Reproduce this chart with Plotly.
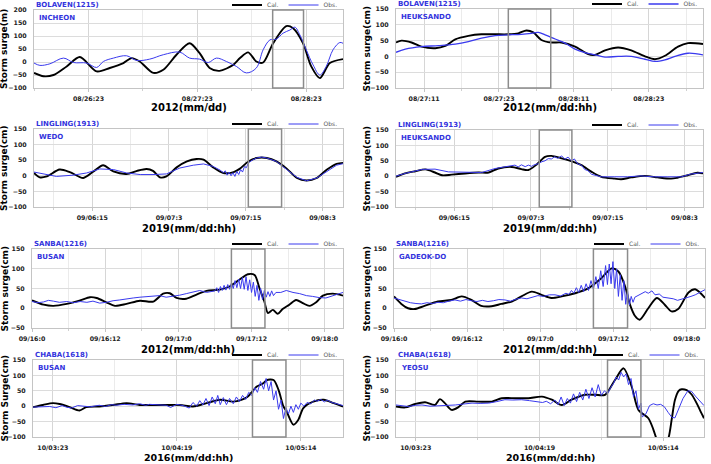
import plotly.graph_objects as go

W, H = 711, 464

# ---------------- data (hours on each panel's own time axis, surge values) ----------------
p1_cal = [(11.0,-42),(13.1,-55),(15.3,-50),(18.2,-17),(21.1,19),(24.8,-36),(27.7,-23),(30.7,-4),(32.5,15),(34.3,2),
          (37.3,-42),(39.5,-30),(42.4,28),(45.3,72),(47.5,34),(49.7,-23),(51.9,-34),(54.9,-11),(56.4,15),(58.2,37),
          (60.0,2),(61.5,-2),(63.7,72),(66.6,138),(68.1,130),(70.3,72),(72.1,-17),(74.0,-62),(76.2,-4),(79.1,11)]
p1_obs = [(11.0,-4),(12.3,-13),(14.5,-7),(17.5,15),(19.7,-2),(22.6,-4),(24.8,-21),(26.3,2),(28.5,15),(31.4,24),
          (33.6,6),(36.5,11),(39.5,28),(43.1,38),(45.3,15),(47.5,11),(49.4,-2),(51.2,15),(53.4,2),(55.6,-17),
          (57.8,-42),(60.0,-23),(61.5,47),(63.0,85),(64.4,88),(65.9,111),(67.4,123),(68.5,134),(69.6,104),(71.0,47),
          (72.5,-11),(74.0,-50),(75.4,-17),(76.9,47),(78.4,75),(79.1,72)]

p2_cal = [(6.5,44),(7.4,50),(9.0,44),(10.6,31),(12.8,26),(14.4,33),(16.0,54),(18.1,65),(20.2,70),(22.4,70),
          (24.5,70),(26.1,73),(27.4,82),(28.5,76),(29.8,52),(31.4,44),(33.0,44),(35.2,31),(37.3,7),(38.4,5),
          (40.0,19),(42.1,28),(44.2,19),(46.4,0),(48.0,-9),(49.6,2),(51.7,31),(53.3,42),(55.7,39)]
p2_obs = [(6.5,13),(8.0,23),(10.6,31),(13.3,34),(16.0,39),(18.1,47),(20.2,58),(22.4,66),(24.5,68),(26.6,70),
          (28.2,73),(29.3,76),(30.4,68),(32.0,55),(33.6,42),(35.2,23),(36.8,12),(38.4,5),(40.0,-2),(42.1,0),
          (44.2,0),(46.4,-9),(48.0,-16),(49.6,-11),(51.2,0),(53.3,10),(55.7,5)]

p3_cal = [(5.9,9),(6.8,-5),(7.9,-2),(9.9,20),(11.5,12),(13.6,-7),(15.2,14),(16.7,34),(18.3,14),(20.4,6),
          (22.0,16),(23.5,22),(24.5,16),(25.6,-5),(26.6,-2),(28.2,27),(29.8,46),(31.3,54),(32.4,52),(33.9,27),
          (35.5,9),(37.1,12),(38.1,23),(39.4,46),(40.7,57),(42.3,57),(43.8,46),(45.4,23),(47.0,-7),(48.5,-15),
          (50.1,-7),(51.7,20),(53.2,38),(54.2,41)]
p3_obs = [(5.9,12),(7.3,6),(9.4,-2),(12.0,2),(14.1,9),(16.2,22),(18.3,20),(20.4,9),(22.5,4),(24.5,4),
          (26.6,6),(28.7,25),(30.8,34),(32.4,38),(33.9,30),(35.0,18),(35.5,10),(35.8,16),(36.1,2),(36.4,12),
          (36.7,0),(37.0,10),(37.3,-2),(37.6,14),(37.9,4),(38.2,20),(38.5,12),(38.8,30),(39.1,26),(39.4,41),
          (40.0,50),(40.7,57),(41.5,60),(42.3,57),(43.8,46),(45.4,20),(47.0,-5),(48.5,-16),(50.1,-7),(51.7,14),
          (53.2,34),(54.2,39)]

p4_cal = [(5.9,-2),(7.3,9),(8.9,16),(10.5,22),(12.0,12),(13.1,3),(14.6,5),(16.7,9),(18.8,12),(20.4,12),
          (21.9,25),(24.0,30),(25.5,23),(26.6,20),(27.9,38),(29.2,63),(30.2,66),(31.8,58),(33.3,49),(34.9,36),
          (36.5,14),(38.0,-2),(40.1,-8),(41.1,-10),(42.7,-4),(44.8,1),(46.8,-4),(48.9,-8),(49.9,-5),(51.5,3),
          (53.0,11),(53.9,9)]
p4_obs = [(5.9,0),(7.3,9),(10.0,22),(12.0,23),(14.1,14),(16.7,12),(19.3,12),(21.4,25),(24.0,33),(24.5,36),
          (25.0,30),(25.5,37),(26.1,31),(26.6,36),(27.1,32),(27.6,38),(28.1,40),(28.7,47),(29.2,50),(29.7,57),
          (30.2,56),(30.7,63),(31.2,58),(31.8,66),(32.3,55),(32.8,62),(33.3,50),(33.8,56),(34.3,40),(34.9,36),
          (35.4,22),(35.9,18),(36.5,6),(38.0,-2),(40.1,-2),(42.1,-2),(44.2,1),(46.3,-2),(48.4,-2),(50.5,-2),
          (52.0,7),(53.9,12)]

p5_cal = [(0,20),(1.9,9),(3.5,6),(5.7,11),(7.9,20),(9.5,28),(10.6,26),(12.2,15),(13.6,6),(15.5,11),
          (17.7,19),(19.9,17),(21.5,37),(22.6,38),(23.7,26),(25.3,24),(26.9,34),(28.6,44),(30.8,47),(32.4,55),
          (34.0,72),(35.4,86),(36.5,84),(37.3,51),(38.1,17),(38.7,-12),(39.5,-4),(40.3,-14),(41.1,-2),(42.2,9),
          (43.3,21),(44.4,13),(45.5,6),(46.6,15),(47.7,32),(49.3,37),(51.0,32)]
p5_obs = [(0,17),(1.0,14),(1.9,16),(2.7,20),(3.5,18),(4.5,15),(5.7,17),(6.8,14),(7.9,17),(9.0,15),
          (10.0,18),(11.1,13),(12.2,15),(13.3,19),(14.4,21),(15.5,24),(16.6,26),(17.7,28),(18.8,30),(19.9,31),
          (20.9,32),(22.0,28),(23.1,30),(24.2,33),(25.3,37),(26.4,42),(27.5,45),(28.6,40),(29.7,43),
          (30.0,44),(30.3,52),(30.6,40),(30.9,55),(31.2,45),(31.5,58),(31.8,46),(32.1,60),(32.4,48),(32.7,64),
          (33.0,50),(33.3,70),(33.6,52),(33.9,74),(34.2,50),(34.5,78),(34.8,48),(35.1,80),(35.4,45),(35.7,72),
          (36.0,40),(36.3,66),(36.6,30),(36.9,58),(37.2,20),(37.5,50),(37.8,22),(38.1,45),(38.4,28),(38.7,42),
          (39.0,30),(39.3,44),(39.6,32),(40.0,40),(40.8,40),(41.7,45),(42.8,40),(43.9,37),(45.0,32),(46.0,30),
          (47.1,27),(48.2,26),(49.0,30),(49.9,34),(50.5,38),(51.0,40)]

p6_cal = [(0,30),(1.2,11),(2.3,0),(3.4,-2),(5.0,6),(7.2,17),(9.4,21),(11.1,30),(12.7,21),(14.3,6),
          (16.0,5),(17.6,11),(19.3,17),(20.9,30),(22.6,42),(24.2,34),(25.8,26),(27.5,30),(29.7,38),(31.9,51),
          (34.0,76),(35.7,101),(36.8,93),(37.9,55),(38.7,9),(39.5,-19),(40.3,-29),(41.7,0),(43.1,26),(44.4,9),
          (45.5,-8),(46.6,-2),(48.3,40),(49.4,48),(51.0,26)]
p6_obs = [(0,26),(0.9,22),(1.8,17),(2.7,14),(3.6,12),(4.5,11),(5.4,14),(6.3,12),(7.2,15),(8.1,14),
          (9.0,18),(10.0,21),(10.9,18),(11.8,22),(12.7,19),(13.6,17),(14.5,20),(15.4,17),(16.3,19),(17.2,22),
          (18.2,21),(19.1,18),(20.0,23),(20.9,26),(21.8,24),(22.7,29),(23.6,32),(24.5,30),(25.5,34),(26.4,34),
          (27.3,31),(28.2,38),(28.7,35),(29.1,45),(29.5,38),(29.9,52),(30.3,40),(30.7,58),(31.1,42),(31.5,62),
          (31.9,45),(32.3,70),(32.7,48),(33.1,80),(33.5,50),(33.9,95),(34.3,55),(34.7,108),(35.0,60),(35.3,112),
          (35.6,62),(35.9,118),(36.2,50),(36.5,100),(36.8,30),(37.1,85),(37.4,20),(37.7,70),(38.0,10),(38.3,45),
          (38.6,8),(38.9,30),(39.2,15),(39.5,28),(40.0,32),(40.5,36),(41.2,42),(41.7,38),(42.3,44),(42.8,34),
          (43.5,36),(44.1,28),(45.0,26),(45.8,24),(46.5,20),(47.2,23),(48.0,26),(48.7,30),(49.4,34),(50.2,40),
          (51.0,47)]

p7_cal = [(19.8,-3),(21.4,4),(23.0,10),(24.1,7),(25.7,-3),(27.3,-14),(28.4,-3),(30.5,-1),(32.7,4),(34.9,10),
          (37.0,4),(39.2,4),(41.3,4),(43.5,4),(45.6,-1),(47.8,10),(50.0,21),(52.1,15),(54.3,29),(55.9,64),
          (57.0,75),(57.5,85),(58.6,85),(59.4,53),(60.2,-1),(60.7,-17),(61.8,-60),(62.6,-44),(63.4,-6),(65.0,15),
          (66.7,21),(68.3,10),(69.8,-1)]
p7_obs = [(19.8,-3),(21.0,-2),(22.5,-1),(23.5,-5),(24.5,2),(25.2,-3),(26.0,-6),(27.0,2),(27.9,1),(29.0,-2),
          (30.5,3),(31.5,-1),(32.5,5),(33.2,3),(34.5,6),(35.9,4),(37.0,8),(38.0,3),(38.6,6),(40.0,5),
          (41.3,3),(42.0,-4),(43.0,6),(44.0,2),(45.0,-6),(45.6,12),(46.2,0),(46.7,18),(47.2,4),(47.7,25),
          (48.2,2),(48.7,30),(49.2,8),(49.6,35),(50.0,5),(50.5,28),(51.0,5),(51.5,25),(52.1,8),(52.6,30),
          (53.1,15),(53.6,35),(54.1,22),(54.6,45),(55.1,35),(55.6,60),(56.0,45),(56.5,80),(57.0,55),(57.4,90),
          (57.8,50),(58.2,80),(58.6,20),(59.0,50),(59.4,-10),(59.8,20),(60.2,-40),(60.6,-5),(61.0,-25),(61.4,0),
          (61.8,-20),(62.2,5),(62.6,-10),(63.0,10),(63.5,0),(64.0,12),(64.6,8),(65.2,20),(65.6,16),(66.2,22),
          (66.8,14),(67.2,20),(68.0,12),(68.8,8),(69.8,2)]

p8_cal = [(19.8,-1),(21.3,-4),(22.9,7),(24.5,13),(26.1,4),(26.9,23),(27.7,10),(28.8,-12),(29.9,-3),(31.0,15),
          (33.1,15),(35.3,15),(36.9,26),(39.1,26),(41.2,26),(43.4,31),(45.0,21),(46.6,4),(48.2,21),(50.4,37),
          (52.0,37),(53.6,37),(55.2,85),(56.6,123),(57.9,64),(59.0,-12),(60.6,-39),(61.4,-75),(61.9,-105),(62.5,-135),
          (63.3,-130),(63.9,-100),(64.4,-40),(64.9,20),(65.5,50),(66.0,55),(66.8,52),(67.6,38),(68.4,10),(69.0,-15),
          (69.6,-39)]
p8_obs = [(19.8,4),(21.0,2),(21.8,-1),(23.0,3),(24.0,4),(25.3,0),(26.7,1),(28.0,3),(29.4,4),(30.7,7),
          (32.1,10),(33.4,9),(34.8,10),(36.1,15),(37.4,21),(38.7,20),(40.1,21),(41.4,18),(42.8,15),(43.5,12),
          (44.1,16),(44.8,8),(45.5,20),(46.0,5),(46.5,30),(47.0,2),(47.5,25),(48.0,10),(48.5,40),(49.0,15),
          (49.5,45),(50.0,20),(50.5,55),(51.0,25),(51.5,60),(52.0,30),(52.5,70),(53.0,35),(53.5,50),(54.0,40),
          (54.5,60),(55.0,75),(55.4,95),(55.8,85),(56.2,110),(56.6,95),(57.0,105),(57.4,70),(57.8,90),(58.2,30),
          (58.6,50),(59.0,-10),(59.4,10),(59.6,-35),(60.2,-25),(60.8,2),(61.4,8),(62.0,4),(62.6,6),(63.2,-2),
          (63.8,-20),(64.4,-36),(64.9,-38),(65.5,-10),(66.2,25),(67.0,50),(67.6,48),(68.2,33),(68.9,18),(69.6,2)]

typhoons = ["BOLAVEN(1215)", "BOLAVEN(1215)", "LINGLING(1913)", "LINGLING(1913)",
            "SANBA(1216)", "SANBA(1216)", "CHABA(1618)", "CHABA(1618)"]
stations = ["INCHEON", "HEUKSANDO", "WEDO", "HEUKSANDO", "BUSAN", "GADEOK-DO", "BUSAN", "YEOSU"]
y_titles = ["Storm surge(m)"] + ["Storm surge(cm)"] * 5 + ["Storm Surge(cm)"] * 2
x_titles = ["2012(mm/dd)", "2012(mm/dd:hh)", "2019(mm/dd:hh)", "2019(mm/dd:hh)",
            "2012(mm/dd:hh)", "2012(mm/dd:hh)", "2016(mm/dd:hh)", "2016(mm/dd:hh)"]
x_ranges = [(11.0, 79.1), (6.5, 55.7), (5.9, 54.2), (5.9, 53.9), (0, 51.0), (0, 51.0), (19.8, 69.8), (19.8, 69.6)]
y_ranges = [(-100, 200), (-100, 150), (-100, 150), (-100, 150), (-50, 150), (-50, 150), (-100, 150), (-100, 150)]
tick_vals = [[23, 47, 71], [11, 23, 35, 47], [15, 27, 39, 51], [15, 27, 39, 51],
             [0, 12, 24, 36, 48], [0, 12, 24, 36, 48], [23, 43, 63], [23, 43, 63]]
tick_text = [["08/26:23", "08/27:23", "08/28:23"],
             ["08/27:11", "08/27:23", "08/28:11", "08/28:23"],
             ["09/06:15", "09/07:3", "09/07:15", "09/08:3"],
             ["09/06:15", "09/07:3", "09/07:15", "09/08:3"],
             ["09/16:0", "09/16:12", "09/17:0", "09/17:12", "09/18:0"],
             ["09/16:0", "09/16:12", "09/17:0", "09/17:12", "09/18:0"],
             ["10/03:23", "10/04:19", "10/05:14"],
             ["10/03:23", "10/04:19", "10/05:14"]]
minor_step = [12, 6, 6, 6, 6, 6, 10, 10]
box_start = [63.6, 24.5, 39.4, 28.3, 32.7, 32.7, 55.2, 54.0]
box_end = [70.4, 31.3, 44.6, 33.4, 38.2, 38.3, 60.6, 59.4]

cal_series = [p1_cal, p2_cal, p3_cal, p4_cal, p5_cal, p6_cal, p7_cal, p8_cal]
obs_series = [p1_obs, p2_obs, p3_obs, p4_obs, p5_obs, p6_obs, p7_obs, p8_obs]

# ---------------- layout geometry (pixels) ----------------
plot_px = [(34, 343, 10, 88), (396, 703, 9, 88), (34, 343, 129, 207), (396, 703, 130, 207),
           (32, 343, 249, 328), (394, 705, 249, 328), (33, 343, 360, 437), (396, 704, 360, 437)]
ytitle_cx = [4, 366, 4, 366, 4, 366, 4, 366]
xtitle_cy = [108, 108, 228, 228, 349, 349, 457, 457]
xtitle_size = [10, 10, 10, 10, 10, 10, 9.5, 9.5]

FONT = "DejaVu Sans"
CAL_C = "#000000"
OBS_C = "#3a3aee"
BLUE_TXT = "#3333dd"

fig = go.Figure()
layout = dict(width=W, height=H, margin=dict(l=0, r=0, t=0, b=0, autoexpand=False),
              paper_bgcolor="white", plot_bgcolor="white", showlegend=True,
              font=dict(family=FONT))
annotations = []
shapes = []

for i in range(8):
    n = i + 1
    xa = "x" if n == 1 else f"x{n}"
    ya = "y" if n == 1 else f"y{n}"
    xk = "xaxis" if n == 1 else f"xaxis{n}"
    yk = "yaxis" if n == 1 else f"yaxis{n}"
    lg = "legend" if n == 1 else f"legend{n}"
    x0p, x1p, y0p, y1p = plot_px[i]
    xdom = [x0p / W, x1p / W]
    ydom = [1 - y1p / H, 1 - y0p / H]

    cal = cal_series[i]
    obs = obs_series[i]
    fig.add_trace(go.Scatter(x=[p[0] for p in cal], y=[p[1] for p in cal], mode="lines",
                             name="Cal.", line=dict(color=CAL_C, width=1.9, shape="spline", smoothing=0.8),
                             xaxis=xa, yaxis=ya, legend=lg, hoverinfo="skip"))
    obs_shape = "spline" if n in (1, 2) else "linear"
    fig.add_trace(go.Scatter(x=[p[0] for p in obs], y=[p[1] for p in obs], mode="lines",
                             name="Obs.", line=dict(color=OBS_C, width=1.3 if n == 2 else 1.0, shape=obs_shape),
                             xaxis=xa, yaxis=ya, legend=lg, hoverinfo="skip"))

    layout[xk] = dict(domain=xdom, range=list(x_ranges[i]), anchor=ya,
                      tickmode="array", tickvals=tick_vals[i], ticktext=tick_text[i],
                      tickfont=dict(size=6.3, family=FONT, weight="bold", color="#222"),
                      showgrid=True, gridcolor="#d6d6d6", gridwidth=1, zeroline=False,
                      showline=True, linecolor="#c4c4c4", linewidth=1, mirror=True,
                      ticks="outside", ticklen=3, tickcolor="#c4c4c4", ticklabelstandoff=1,
                      minor=dict(tickmode="linear", tick0=tick_vals[i][0], dtick=minor_step[i],
                                 showgrid=True, gridcolor="#ebebeb", ticks="outside", ticklen=2,
                                 tickcolor="#d0d0d0"),
                      fixedrange=True)
    layout[yk] = dict(domain=ydom, range=list(y_ranges[i]), anchor=xa,
                      tickmode="linear", tick0=0, dtick=50,
                      tickfont=dict(size=6.3, family=FONT, weight="bold", color="#222"),
                      showgrid=True, gridcolor="#dcdcdc", gridwidth=1, zeroline=False,
                      showline=True, linecolor="#c4c4c4", linewidth=1, mirror=True,
                      ticks="", ticklabelstandoff=5, fixedrange=True)
    layout[lg] = dict(orientation="h", x=x1p / W, xanchor="right", y=1 - (y0p - 5) / H, yanchor="middle",
                      font=dict(size=6, family=FONT, color="#555"), bgcolor="rgba(0,0,0,0)",
                      itemwidth=30, tracegroupgap=0, itemclick=False, itemdoubleclick=False,
                      borderwidth=0)

    shapes.append(dict(type="rect", xref=xa, yref=f"{ya} domain", x0=box_start[i], x1=box_end[i],
                       y0=0, y1=1, line=dict(color="#8c8c8c", width=1.5), fillcolor="rgba(0,0,0,0)"))

    annotations.append(dict(text=f"<b>{typhoons[i]}</b>", xref=f"{xa} domain", yref=f"{ya} domain",
                            x=0, y=1, xanchor="left", yanchor="bottom", showarrow=False, yshift=-1,
                            font=dict(size=7, family=FONT, color=BLUE_TXT)))
    annotations.append(dict(text=f"<b>{stations[i]}</b>", xref=f"{xa} domain", yref=f"{ya} domain",
                            x=0, y=0.9, xanchor="left", yanchor="middle", showarrow=False, xshift=3,
                            font=dict(size=7, family=FONT, color=BLUE_TXT)))
    annotations.append(dict(text=f"<b>{y_titles[i]}</b>", xref="paper", yref=f"{ya} domain",
                            x=ytitle_cx[i] / W, y=0.5, xanchor="center", yanchor="middle",
                            textangle=-90, showarrow=False,
                            font=dict(size=9, family=FONT, color="#000")))
    annotations.append(dict(text=f"<b>{x_titles[i]}</b>", xref=f"{xa} domain", yref="paper",
                            x=0.5, y=1 - xtitle_cy[i] / H, xanchor="center", yanchor="middle",
                            showarrow=False, font=dict(size=xtitle_size[i], family=FONT, color="#000")))

layout["annotations"] = annotations
layout["shapes"] = shapes
fig.update_layout(**layout)
fig.write_html("out.html")
